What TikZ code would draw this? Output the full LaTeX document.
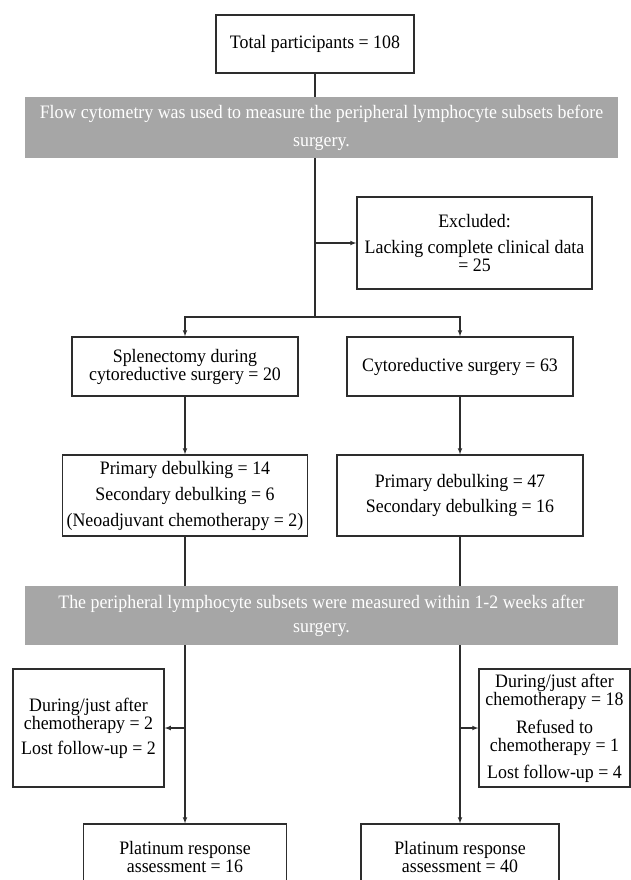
\documentclass[tikz,border=0pt]{standalone}
\usepackage{fontspec}
\setmainfont{Liberation Serif}[FakeStretch=0.94]
\definecolor{bandgray}{RGB}{166,166,166}
\definecolor{linegray}{RGB}{45,45,45}
\usetikzlibrary{arrows,shapes}
\tikzstyle{box}=[draw=linegray,line width=1.3pt,fill=white,inner sep=0pt,align=center,font=\fontsize{19}{18}\selectfont]
\tikzstyle{band}=[fill=bandgray,inner sep=0pt,align=center,text=white,minimum width=593pt,font=\fontsize{19}{18}\selectfont]
\tikzstyle{edge} = [draw=linegray,line width=1.1pt,-]
\tikzstyle{arrow} = [draw=linegray,line width=1.1pt,-latex]

\begin{document}
\begin{tikzpicture}[x=1pt,y=-1pt]

            \node[box,minimum width=198pt,minimum height=58pt] (total) at (315,44) {Total participants = 108};
            \node[band,minimum height=61pt] (flow) at (321.5,127.5) {Flow cytometry was used to measure the peripheral lymphocyte subsets before\\[10pt]surgery.};
            \node[box,minimum width=235pt,minimum height=92pt] (excl) at (474.5,243) {Excluded:\\[8pt]Lacking complete clinical data\\= 25};
            \node[box,minimum width=226pt,minimum height=59pt] (splen) at (185,366.5) {Splenectomy during\\cytoreductive surgery = 20};
            \node[box,minimum width=226pt,minimum height=59pt] (cyto) at (460,366.5) {Cytoreductive surgery = 63};
            \node[box,minimum width=245pt,minimum height=81pt] (debl) at (185,495.5) {Primary debulking = 14\\[8pt]Secondary debulking = 6\\[8pt](Neoadjuvant chemotherapy = 2)};
            \node[box,minimum width=246pt,minimum height=81pt] (debr) at (460,495.5) {Primary debulking = 47\\[7pt]Secondary debulking = 16};
            \node[band,minimum height=59pt] (meas) at (321.5,615.5) {The peripheral lymphocyte subsets were measured within 1-2 weeks after\\[6pt]surgery.};
            \node[box,minimum width=151pt,minimum height=118pt] (lossl) at (88.5,728) {During/just after\\chemotherapy = 2\\[7pt]Lost follow-up = 2};
            \node[box,minimum width=151pt,minimum height=118pt] (lossr) at (554.5,728) {During/just after\\chemotherapy = 18\\[10pt]Refused to\\chemotherapy = 1\\[9pt]Lost follow-up = 4};
            \node[box,minimum width=203pt,minimum height=66pt] (platl) at (185,857) {Platinum response\\assessment = 16};
            \node[box,minimum width=198pt,minimum height=66pt] (platr) at (460,857) {Platinum response\\assessment = 40};

            \coordinate (split) at (315,317);
            \coordinate (exclpt) at (315,243);
            \coordinate (sidel) at (185,728);
            \coordinate (sider) at (460,728);

            \path[edge] (total) -- (total |- flow.north);
            \path[edge] (flow.south -| split) -- (split);
            \path[arrow] (exclpt) -- (excl);
            \path[arrow] (split) -| (splen);
            \path[arrow] (split) -| (cyto);
            \path[arrow] (splen) -- (debl);
            \path[arrow] (cyto) -- (debr);
            \path[edge] (debl) -- (debl |- meas.north);
            \path[edge] (debr) -- (debr |- meas.north);
            \path[arrow] (meas.south -| platl) -- (platl);
            \path[arrow] (meas.south -| platr) -- (platr);
            \path[arrow] (sidel) -- (lossl);
            \path[arrow] (sider) -- (lossr);

            \pgfresetboundingbox
            \path [use as bounding box] (0,0) rectangle (631,880);
        \end{tikzpicture}
\end{document}
